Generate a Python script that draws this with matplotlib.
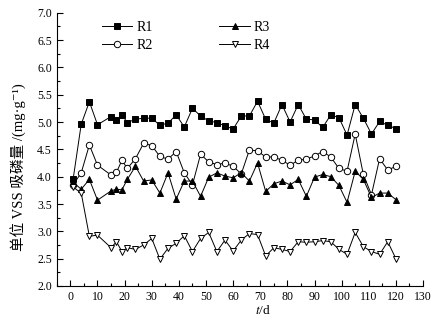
import matplotlib
matplotlib.use('Agg')
import matplotlib.pyplot as plt
from matplotlib.ticker import MultipleLocator, FormatStrFormatter

plt.rcParams['font.family'] = ['Liberation Serif', 'DejaVu Serif', 'Noto Sans CJK SC']
plt.rcParams['mathtext.fontset'] = 'stix'

# sampling days
days = [1, 4, 7, 10, 15, 17, 19, 21, 24, 27, 30, 33, 36, 39, 42, 45, 48, 51,
        54, 57, 60, 63, 66, 69, 72, 75, 78, 81, 84, 87, 90, 93, 96, 99, 102,
        105, 108, 111, 114, 117, 120]

r1 = [3.95, 4.96, 5.37, 4.95, 5.10, 5.04, 5.13, 4.99, 5.05, 5.07, 5.07, 4.94,
      4.98, 5.13, 4.91, 5.25, 5.11, 5.02, 4.99, 4.93, 4.87, 5.11, 5.11, 5.38,
      5.05, 4.98, 5.32, 5.00, 5.32, 5.05, 5.04, 4.90, 5.13, 5.08, 4.76, 5.32,
      5.07, 4.78, 5.01, 4.94, 4.88]

r2 = [3.85, 4.07, 4.58, 4.21, 4.03, 4.08, 4.30, 4.15, 4.33, 4.61, 4.57, 4.37,
      4.32, 4.46, 4.07, 3.85, 4.41, 4.27, 4.22, 4.25, 4.19, 4.05, 4.49, 4.47,
      4.36, 4.36, 4.30, 4.21, 4.30, 4.32, 4.38, 4.46, 4.36, 4.15, 4.10, 4.78,
      4.04, 3.67, 4.33, 4.12, 4.19]

r3 = [3.90, 3.77, 3.95, 3.57, 3.74, 3.77, 3.76, 3.95, 4.19, 3.92, 3.94, 3.70,
      4.07, 3.59, 3.92, 3.92, 3.64, 3.99, 4.07, 4.01, 3.98, 4.07, 3.92, 4.25,
      3.73, 3.87, 3.92, 3.85, 3.95, 3.64, 3.99, 4.04, 4.00, 3.84, 3.53, 4.10,
      3.95, 3.62, 3.70, 3.70, 3.58]

r4 = [3.81, 3.70, 2.91, 2.93, 2.70, 2.81, 2.63, 2.70, 2.67, 2.75, 2.87, 2.49,
      2.69, 2.78, 2.92, 2.63, 2.87, 2.98, 2.63, 2.84, 2.64, 2.84, 2.96, 2.94,
      2.55, 2.70, 2.67, 2.63, 2.81, 2.80, 2.81, 2.83, 2.81, 2.67, 2.58, 2.98,
      2.72, 2.63, 2.58, 2.81, 2.50]

fig = plt.figure(figsize=(4.37, 3.25), dpi=100)
ax = fig.add_axes([0.130, 0.12, 0.838, 0.841])

kw = dict(color='black', lw=0.7, markersize=4.6, markeredgewidth=0.7)
ax.plot(days, r1, marker='s', markerfacecolor='black', label='R1', **kw)
ax.plot(days, r2, marker='o', markerfacecolor='white', label='R2', **kw)
ax.plot(days, r3, marker='^', markerfacecolor='black', label='R3', **kw)
ax.plot(days, r4, marker='v', markerfacecolor='white', label='R4', **kw)

ax.set_xlim(-5, 130)
ax.set_ylim(2.0, 7.0)
ax.xaxis.set_major_locator(MultipleLocator(10))
ax.xaxis.set_minor_locator(MultipleLocator(5))
ax.yaxis.set_major_locator(MultipleLocator(0.5))
ax.yaxis.set_minor_locator(MultipleLocator(0.25))
ax.yaxis.set_major_formatter(FormatStrFormatter('%.1f'))
ax.tick_params(which='both', direction='in', labelsize=8.5, width=0.8)
ax.tick_params(which='major', length=4)
ax.tick_params(which='minor', length=2)
ax.spines['top'].set_visible(False)
ax.spines['right'].set_visible(False)

ax.set_xlabel(r'$t$/d', fontsize=9.5)
ax.xaxis.set_label_coords(0.563, -0.065)
ax.set_ylabel('单位 VSS 吸磷量 /(mg·g⁻¹)', fontsize=10.5)
ax.yaxis.set_label_coords(-0.085, 0.435)

ax.legend(ncol=2, frameon=False, loc='upper left', bbox_to_anchor=(0.088, 1.015),
          fontsize=10, handlelength=2.2, columnspacing=4.8, labelspacing=0.35,
          handletextpad=0.3)

fig.savefig('out.png', dpi=100)
